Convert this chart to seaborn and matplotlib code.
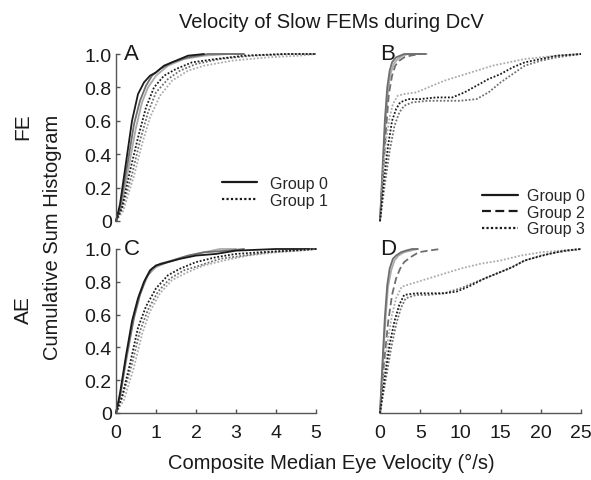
import numpy as np
import pandas as pd
import matplotlib
matplotlib.use("Agg")
import matplotlib.pyplot as plt
from matplotlib.lines import Line2D
import seaborn as sns

sns.set_theme(style="white")
plt.rcParams['font.family'] = ['Liberation Sans', 'DejaVu Sans']

# Panel A (FE, groups 0 and 1), x in deg/s, y cumulative fraction
A_g0_black_x = [0, 0.1, 0.25, 0.4, 0.55, 0.7, 0.85, 1.0, 1.2, 1.5, 1.8, 2.2]
A_g0_black_y = [0, 0.1, 0.35, 0.6, 0.76, 0.83, 0.87, 0.89, 0.93, 0.96, 0.99, 1.0]
A_g0_gray_x = [0, 0.1, 0.3, 0.45, 0.6, 0.75, 0.9, 1.1, 1.4, 1.8, 2.3, 3.2]
A_g0_gray_y = [0, 0.08, 0.36, 0.58, 0.72, 0.81, 0.87, 0.91, 0.95, 0.98, 1.0, 1.0]
A_g0_light_x = [0, 0.12, 0.3, 0.5, 0.65, 0.8, 1.0, 1.3, 1.7, 2.2, 2.8, 3.2]
A_g0_light_y = [0, 0.07, 0.3, 0.56, 0.71, 0.8, 0.87, 0.93, 0.97, 0.99, 1.0, 1.0]
A_g1_black_x = [0, 0.15, 0.35, 0.55, 0.75, 0.95, 1.2, 1.5, 1.9, 2.5, 3.2, 4.2, 5.0]
A_g1_black_y = [0, 0.08, 0.3, 0.5, 0.68, 0.8, 0.87, 0.91, 0.95, 0.97, 0.99, 1.0, 1.0]
A_g1_gray_x = [0, 0.15, 0.4, 0.6, 0.8, 1.0, 1.3, 1.6, 2.0, 2.6, 3.4, 4.4, 5.0]
A_g1_gray_y = [0, 0.07, 0.28, 0.48, 0.65, 0.77, 0.85, 0.9, 0.94, 0.97, 0.99, 1.0, 1.0]
A_g1_light_x = [0, 0.18, 0.45, 0.65, 0.85, 1.1, 1.4, 1.8, 2.2, 2.9, 3.8, 4.6, 5.0]
A_g1_light_y = [0, 0.06, 0.27, 0.46, 0.62, 0.75, 0.84, 0.9, 0.93, 0.96, 0.98, 0.99, 1.0]

# Panel B (FE, groups 0, 2, 3)
B_g0_black_x = [0, 0.3, 0.6, 0.9, 1.2, 1.5, 2.0, 2.5, 3.0, 4.0, 5.0]
B_g0_black_y = [0, 0.3, 0.6, 0.8, 0.9, 0.95, 0.98, 0.99, 1.0, 1.0, 1.0]
B_g0_gray_x = [0, 0.35, 0.7, 1.0, 1.3, 1.7, 2.2, 2.8, 3.5, 4.5, 5.8]
B_g0_gray_y = [0, 0.3, 0.6, 0.78, 0.88, 0.94, 0.97, 0.99, 1.0, 1.0, 1.0]
B_g2_black_x = [0, 0.4, 0.8, 1.1, 1.5, 1.9, 2.4, 3.0, 3.8, 4.8, 6.0]
B_g2_black_y = [0, 0.3, 0.58, 0.76, 0.87, 0.93, 0.96, 0.98, 0.99, 1.0, 1.0]
B_g3_light_x = [0, 0.4, 0.8, 1.2, 1.6, 2.2, 3.0, 4.5, 6, 8, 10, 12, 14, 16, 18, 20, 22, 25]
B_g3_light_y = [0, 0.3, 0.5, 0.62, 0.7, 0.75, 0.76, 0.77, 0.8, 0.84, 0.87, 0.9, 0.93, 0.95, 0.97, 0.98, 0.99, 1.0]
B_g3_black_x = [0, 0.5, 1.0, 1.5, 2.0, 2.5, 3.5, 5, 7, 9, 10.5, 12, 13.5, 15, 16.5, 18, 20, 22, 25]
B_g3_black_y = [0, 0.25, 0.45, 0.6, 0.67, 0.71, 0.73, 0.73, 0.74, 0.74, 0.77, 0.81, 0.85, 0.88, 0.92, 0.95, 0.97, 0.99, 1.0]
B_g3_gray_x = [0, 0.6, 1.2, 1.8, 2.4, 3.0, 4.0, 6, 8, 10, 12, 13.5, 15, 16.5, 18, 20, 22, 25]
B_g3_gray_y = [0, 0.22, 0.42, 0.57, 0.65, 0.69, 0.71, 0.72, 0.72, 0.72, 0.73, 0.77, 0.83, 0.88, 0.93, 0.96, 0.98, 1.0]

# Panel C (AE, groups 0 and 1)
C_g0_black_x = [0, 0.1, 0.25, 0.4, 0.55, 0.7, 0.85, 1.0, 1.3, 1.6, 2.0, 2.5, 3.0, 4.0, 5.0]
C_g0_black_y = [0, 0.12, 0.35, 0.56, 0.7, 0.8, 0.87, 0.9, 0.92, 0.94, 0.96, 0.97, 0.99, 1.0, 1.0]
C_g0_gray_x = [0, 0.1, 0.25, 0.45, 0.6, 0.75, 0.9, 1.1, 1.4, 1.8, 2.2, 2.8, 3.2]
C_g0_gray_y = [0, 0.1, 0.33, 0.58, 0.72, 0.82, 0.88, 0.91, 0.93, 0.96, 0.98, 0.99, 1.0]
C_g0_light_x = [0, 0.1, 0.3, 0.45, 0.6, 0.8, 1.0, 1.3, 1.7, 2.2, 2.6, 3.0]
C_g0_light_y = [0, 0.1, 0.38, 0.6, 0.73, 0.84, 0.89, 0.92, 0.95, 0.98, 1.0, 1.0]
C_g1_black_x = [0, 0.15, 0.35, 0.55, 0.75, 1.0, 1.3, 1.6, 2.0, 2.5, 3.0, 3.6, 4.3, 5.0]
C_g1_black_y = [0, 0.1, 0.3, 0.52, 0.65, 0.76, 0.84, 0.88, 0.92, 0.95, 0.97, 0.98, 0.99, 1.0]
C_g1_gray_x = [0, 0.15, 0.4, 0.6, 0.8, 1.05, 1.35, 1.7, 2.1, 2.6, 3.2, 3.8, 4.5, 5.0]
C_g1_gray_y = [0, 0.09, 0.3, 0.5, 0.63, 0.74, 0.82, 0.87, 0.9, 0.94, 0.96, 0.98, 0.99, 1.0]
C_g1_light_x = [0, 0.2, 0.45, 0.65, 0.85, 1.1, 1.4, 1.8, 2.2, 2.7, 3.3, 4.0, 4.6, 5.0]
C_g1_light_y = [0, 0.08, 0.28, 0.48, 0.62, 0.73, 0.81, 0.86, 0.9, 0.93, 0.96, 0.98, 0.99, 1.0]

# Panel D (AE, groups 0, 2, 3)
D_g0_black_x = [0, 0.3, 0.6, 0.9, 1.2, 1.6, 2.0, 2.6, 3.2, 4.0, 4.7]
D_g0_black_y = [0, 0.3, 0.58, 0.78, 0.88, 0.94, 0.96, 0.98, 0.99, 1.0, 1.0]
D_g0_gray_x = [0, 0.35, 0.7, 1.0, 1.4, 1.8, 2.3, 3.0, 3.8, 4.7]
D_g0_gray_y = [0, 0.3, 0.58, 0.77, 0.87, 0.93, 0.96, 0.98, 0.99, 1.0]
D_g2_black_x = [0, 0.5, 1.0, 1.5, 2.0, 2.5, 3.0, 3.8, 4.8, 6.0, 7.5]
D_g2_black_y = [0, 0.3, 0.55, 0.72, 0.82, 0.88, 0.92, 0.95, 0.98, 0.99, 1.0]
D_g3_light_x = [0, 0.5, 1.0, 1.5, 2.0, 2.7, 4, 6, 8, 10, 12.5, 15, 17.5, 20, 22.5, 25]
D_g3_light_y = [0, 0.25, 0.45, 0.6, 0.7, 0.77, 0.79, 0.82, 0.85, 0.88, 0.91, 0.93, 0.96, 0.98, 0.99, 1.0]
D_g3_black_x = [0, 0.6, 1.2, 1.8, 2.4, 3.0, 4.5, 6, 8, 9.5, 11, 13, 15, 16.5, 18, 19.5, 21, 23, 25]
D_g3_black_y = [0, 0.22, 0.42, 0.56, 0.66, 0.72, 0.73, 0.73, 0.73, 0.74, 0.77, 0.82, 0.86, 0.89, 0.93, 0.95, 0.97, 0.99, 1.0]
D_g3_gray_x = [0, 0.7, 1.4, 2.0, 2.6, 3.2, 4.5, 6, 8, 10, 12, 14, 16, 18, 20, 22, 25]
D_g3_gray_y = [0, 0.2, 0.4, 0.54, 0.64, 0.7, 0.72, 0.72, 0.73, 0.76, 0.8, 0.84, 0.88, 0.93, 0.96, 0.98, 1.0]

BLACK, GRAY, LIGHT = "#1a1a1a", "#6e6e6e", "#ababab"
SOLID, DASHED, DOTTED = "-", (0, (4, 2)), (0, (1, 1))

panels = {
    "A": [(A_g0_light_x, A_g0_light_y, LIGHT, SOLID), (A_g0_gray_x, A_g0_gray_y, GRAY, SOLID),
          (A_g0_black_x, A_g0_black_y, BLACK, SOLID), (A_g1_light_x, A_g1_light_y, LIGHT, DOTTED),
          (A_g1_gray_x, A_g1_gray_y, GRAY, DOTTED), (A_g1_black_x, A_g1_black_y, BLACK, DOTTED)],
    "B": [(B_g0_gray_x, B_g0_gray_y, LIGHT, SOLID), (B_g0_black_x, B_g0_black_y, GRAY, SOLID),
          (B_g2_black_x, B_g2_black_y, GRAY, DASHED), (B_g3_light_x, B_g3_light_y, LIGHT, DOTTED),
          (B_g3_gray_x, B_g3_gray_y, GRAY, DOTTED), (B_g3_black_x, B_g3_black_y, BLACK, DOTTED)],
    "C": [(C_g0_light_x, C_g0_light_y, LIGHT, SOLID), (C_g0_gray_x, C_g0_gray_y, GRAY, SOLID),
          (C_g0_black_x, C_g0_black_y, BLACK, SOLID), (C_g1_light_x, C_g1_light_y, LIGHT, DOTTED),
          (C_g1_gray_x, C_g1_gray_y, GRAY, DOTTED), (C_g1_black_x, C_g1_black_y, BLACK, DOTTED)],
    "D": [(D_g0_gray_x, D_g0_gray_y, LIGHT, SOLID), (D_g0_black_x, D_g0_black_y, GRAY, SOLID),
          (D_g2_black_x, D_g2_black_y, GRAY, DASHED), (D_g3_light_x, D_g3_light_y, LIGHT, DOTTED),
          (D_g3_gray_x, D_g3_gray_y, GRAY, DOTTED), (D_g3_black_x, D_g3_black_y, BLACK, DOTTED)],
}

W, H = 591, 481
fig = plt.figure(figsize=(W / 100, H / 100), dpi=100)

def box(x0, x1, ytop, ybot):
    return [x0 / W, 1 - ybot / H, (x1 - x0) / W, (ybot - ytop) / H]

axes = {
    "A": fig.add_axes(box(116, 316, 55, 222)),
    "B": fig.add_axes(box(380, 581, 55, 222)),
    "C": fig.add_axes(box(116, 316, 250, 414)),
    "D": fig.add_axes(box(380, 581, 250, 414)),
}
xmax = {"A": 5, "B": 25, "C": 5, "D": 25}
spine_col = "#555555"
tick_fs = 14

for name, ax in axes.items():
    for xs, ys, col, ls in panels[name]:
        sns.lineplot(x=xs, y=ys, ax=ax, color=col, linestyle=ls, lw=1.3,
                     sort=False, estimator=None, clip_on=False)
    ax.set_xlim(0, xmax[name])
    ax.set_ylim(0, 1.0)
    for s in ax.spines.values():
        s.set_visible(False)
        s.set_color(spine_col)
        s.set_linewidth(1.0)
    left = name in ("A", "C")
    bottom = name in ("C", "D")
    ax.spines["left"].set_visible(left)
    ax.spines["bottom"].set_visible(bottom)
    ax.tick_params(direction="in", length=3, width=1.0, color=spine_col,
                   labelsize=tick_fs, labelcolor="#1a1a1a",
                   left=left, labelleft=left, bottom=bottom, labelbottom=bottom)
    ax.tick_params(axis="y", pad=3)
    ax.tick_params(axis="x", pad=8)
    ax.set_yticks([0, 0.2, 0.4, 0.6, 0.8, 1.0])
    ax.set_yticklabels(["0", "0.2", "0.4", "0.6", "0.8", "1.0"])
    if xmax[name] == 5:
        ax.set_xticks([0, 1, 2, 3, 4, 5])
    else:
        ax.set_xticks([0, 5, 10, 15, 20, 25])
    ax.set_xlabel("")
    ax.set_ylabel("")
    ax.patch.set_alpha(0)
    ax.text(0.04 if left else 0.0, 1.0, name, transform=ax.transAxes,
            fontsize=16, va="center", ha="left", color="#1a1a1a")

# legends
hA = [Line2D([], [], color=BLACK, lw=1.6, ls=SOLID), Line2D([], [], color=BLACK, lw=1.6, ls=DOTTED)]
axes["A"].legend(hA, ["Group 0", "Group 1"], frameon=False, fontsize=11.5,
                 loc="lower right", bbox_to_anchor=(1.1, 0.03), handlelength=2.2,
                 handletextpad=0.8, labelspacing=0.15, borderpad=0)
hB = [Line2D([], [], color=BLACK, lw=1.6, ls=SOLID), Line2D([], [], color=BLACK, lw=1.6, ls=DASHED),
      Line2D([], [], color=BLACK, lw=1.6, ls=DOTTED)]
axes["B"].legend(hB, ["Group 0", "Group 2", "Group 3"], frameon=False, fontsize=11.5,
                 loc="lower right", bbox_to_anchor=(1.06, -0.14), handlelength=2.2,
                 handletextpad=0.6, labelspacing=0.1, borderpad=0)

fig.text(331 / W, 1 - 23 / H, "Velocity of Slow FEMs during DcV", ha="center", va="center",
         fontsize=14.5, color="#1a1a1a")
fig.text(23 / W, 1 - 127 / H, "FE", rotation=90, ha="center", va="center", fontsize=15, color="#1a1a1a")
fig.text(23 / W, 1 - 310 / H, "AE", rotation=90, ha="center", va="center", fontsize=15, color="#1a1a1a")
fig.text(53 / W, 1 - 237 / H, "Cumulative Sum Histogram", rotation=90, ha="center", va="center",
         fontsize=14.5, color="#1a1a1a")
fig.text(331 / W, 1 - 463 / H, "Composite Median Eye Velocity (°/s)", ha="center", va="center",
         fontsize=14.5, color="#1a1a1a")

fig.savefig("out.png", dpi=100)
